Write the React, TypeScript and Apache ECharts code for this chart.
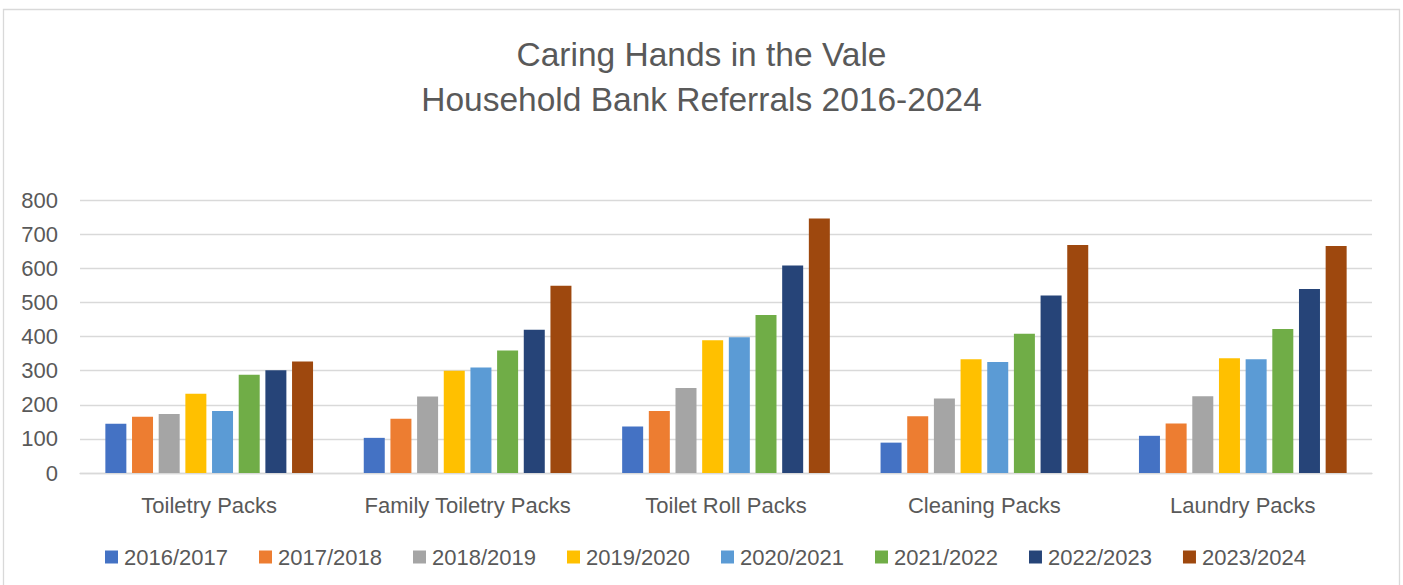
import React, { useEffect, useRef } from "react";
import * as echarts from "echarts";

const categories = ["Toiletry Packs", "Family Toiletry Packs", "Toilet Roll Packs", "Cleaning Packs", "Laundry Packs"];
const seriesNames = ["2016/2017", "2017/2018", "2018/2019", "2019/2020", "2020/2021", "2021/2022", "2022/2023", "2023/2024"];
const s2016 = [144, 103, 136, 89, 109];
const s2017 = [165, 159, 182, 166, 145];
const s2018 = [173, 224, 249, 218, 225];
const s2019 = [232, 300, 389, 333, 336];
const s2020 = [182, 309, 398, 325, 333];
const s2021 = [288, 359, 463, 408, 422];
const s2022 = [301, 420, 608, 520, 539];
const s2023 = [327, 549, 746, 668, 665];
const seriesValues = [s2016, s2017, s2018, s2019, s2020, s2021, s2022, s2023];
const colors = ["#4472C4", "#ED7D31", "#A5A5A5", "#FFC000", "#5B9BD5", "#70AD47", "#264478", "#9E480E"];
const titleText = "Caring Hands in the Vale\nHousehold Bank Referrals 2016-2024";

const FONT = "'Liberation Sans', Arial, sans-serif";
const TXT = "#595959";

export default function App() {
  const ref = useRef<HTMLDivElement>(null);
  useEffect(() => {
    if (!ref.current) return;
    const chart = echarts.init(ref.current, null, { renderer: "svg" });
    chart.setOption({
      animation: false,
      color: colors,
      textStyle: { fontFamily: FONT },
      graphic: [
        {
          type: "rect",
          shape: { x: 3.5, y: 9.5, width: 1396, height: 620 },
          style: { fill: "none", stroke: "#d9d9d9", lineWidth: 1.3 },
          silent: true,
        },
      ],
      title: {
        text: titleText,
        left: "center",
        top: 27,
        textStyle: { fontFamily: FONT, fontSize: 33.5, fontWeight: "normal", color: TXT, lineHeight: 45 },
      },
      legend: {
        data: seriesNames,
        left: 100,
        top: 541,
        itemWidth: 13,
        itemHeight: 13,
        itemGap: 31,
        icon: "rect",
        textStyle: { fontFamily: FONT, fontSize: 22, color: TXT, padding: [0, 0, 0, 1] },
      },
      grid: { left: 80, right: 31, top: 200, bottom: 112, containLabel: false },
      xAxis: {
        type: "category",
        data: categories,
        axisLine: { lineStyle: { color: "#d9d9d9", width: 1.3 } },
        axisTick: { show: false },
        axisLabel: { fontFamily: FONT, fontSize: 22, color: TXT, margin: 21, interval: 0 },
      },
      yAxis: {
        type: "value",
        min: 0,
        max: 800,
        interval: 100,
        axisLine: { show: false },
        axisTick: { show: false },
        splitLine: { lineStyle: { color: "#d9d9d9", width: 1.3 } },
        axisLabel: { fontFamily: FONT, fontSize: 22, color: TXT, margin: 22 },
      },
      series: seriesNames.map((name, i) => ({
        name,
        type: "bar",
        data: seriesValues[i],
        barWidth: 21,
        barGap: "27%",
        itemStyle: { color: colors[i] },
      })),
    });
    return () => chart.dispose();
  }, []);
  return (
    <div
      ref={ref}
      style={{ position: "absolute", left: 0, top: 0, width: 1403, height: 585, background: "#fff" }}
    />
  );
}
